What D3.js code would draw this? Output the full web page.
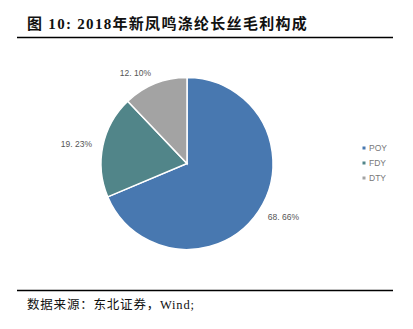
<!DOCTYPE html>
<html>
<head>
<meta charset="utf-8">
<script src="https://cdn.jsdelivr.net/npm/d3@7.9.0/dist/d3.min.js"></script>
<style>
  body { margin: 0; background: #fff; }
  svg { display: block; }
</style>
</head>
<body>
<svg width="413" height="329"></svg>
<script>
// data
const categories = ['POY', 'FDY', 'DTY'];
const shares = [68.66, 19.23, 12.10];
const labels = ['68.66%', '19.23%', '12.10%'];
const colorList = ['#4878b0', '#518589', '#a3a3a3'];

const svg = d3.select('svg');

// title + rules
svg.append('text')
    .attr('x', 27).attr('y', 29)
    .attr('font-family', '"Liberation Serif", "Noto Sans CJK SC", serif')
    .attr('font-weight', 'bold')
    .attr('font-size', 15)
    .attr('letter-spacing', 1.3)
    .attr('fill', '#111')
    .text('图 10:  2018年新凤鸣涤纶长丝毛利构成');

svg.append('line').attr('x1', 17).attr('x2', 393).attr('y1', 37.5).attr('y2', 37.5)
    .attr('stroke', '#000').attr('stroke-width', 1.3);
svg.append('line').attr('x1', 17).attr('x2', 393).attr('y1', 290.5).attr('y2', 290.5)
    .attr('stroke', '#000').attr('stroke-width', 1.3);

svg.append('text')
    .attr('x', 27).attr('y', 309)
    .attr('font-family', '"Liberation Serif", "Noto Sans CJK SC", serif')
    .attr('font-size', 12.5)
    .attr('letter-spacing', 0.8)
    .attr('fill', '#111')
    .text('数据来源：东北证券，Wind;');

// pie
const cx = 187, cy = 163.5, r = 86;
const colors = d3.scaleOrdinal().domain(categories).range(colorList);
const pie = d3.pie().value(d => d).sort(null);
const arc = d3.arc().innerRadius(0).outerRadius(r);
const labelArc = d3.arc().innerRadius(97).outerRadius(97);
const arcs = pie(shares);

const g = svg.append('g').attr('transform', `translate(${cx},${cy})`);
g.selectAll('path')
    .data(arcs)
    .join('path')
    .attr('d', arc)
    .attr('fill', (d, i) => colors(categories[i]))
    .attr('stroke', '#fff')
    .attr('stroke-width', 1.5);

g.selectAll('text.lbl')
    .data(arcs)
    .join('text')
    .attr('class', 'lbl')
    .attr('transform', d => `translate(${labelArc.centroid(d)})`)
    .attr('text-anchor', d => (d.startAngle + d.endAngle) / 2 > Math.PI ? 'end' : 'start')
    .attr('dy', '0.35em')
    .attr('font-family', 'Arial, "Liberation Sans", sans-serif')
    .attr('font-size', 8.5)
    .attr('fill', '#555')
    .text((d, i) => labels[i].replace('.', '. '));

// legend
const legend = svg.append('g').attr('transform', 'translate(364,148)');
categories.forEach((c, i) => {
    const row = legend.append('g').attr('transform', `translate(0,${i * 15})`);
    row.append('rect').attr('x', -1.5).attr('y', -1.5).attr('width', 3).attr('height', 3)
        .attr('fill', colors(c));
    row.append('text').attr('x', 5).attr('dy', '0.35em')
        .attr('font-family', 'Arial, "Liberation Sans", sans-serif')
        .attr('font-size', 8.5)
        .attr('fill', '#777')
        .text(c);
});
</script>
</body>
</html>
